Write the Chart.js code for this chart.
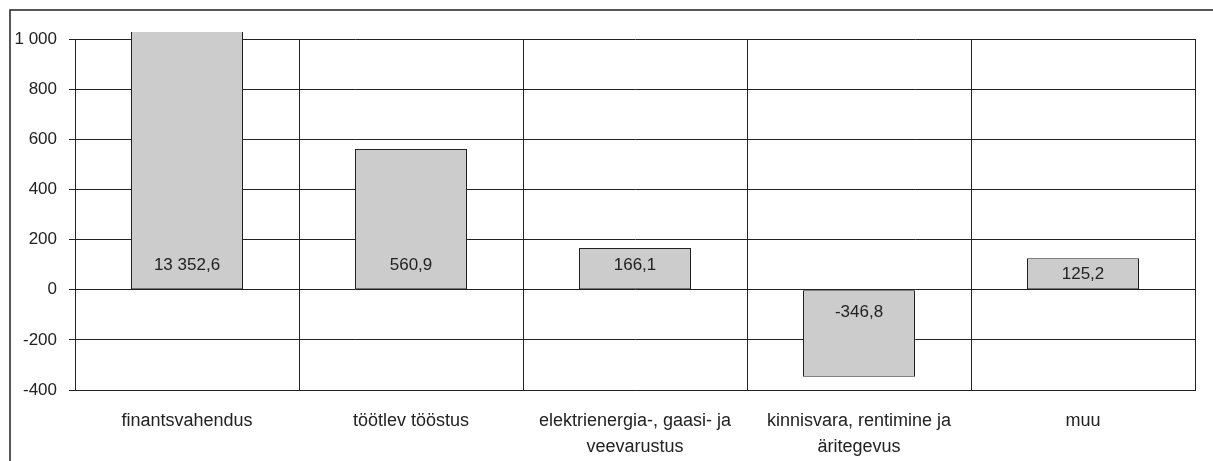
<!DOCTYPE html>
<html lang="et">
<head>
  <meta charset="UTF-8" />
  <title>Investeeringud tegevusalade kaupa</title>
  <script src="https://cdn.jsdelivr.net/npm/chart.js"></script>
  <style>
    html, body {
      margin: 0;
      padding: 0;
      background: #fff;
    }
    .wrap {
      width: 1213px;
      height: 461px;
    }
  </style>
</head>
<body>
  <div class="wrap"><canvas id="chart" width="1213" height="461"></canvas></div>

  <script>
    // data
    const categories = [
      ['finantsvahendus'],
      ['töötlev tööstus'],
      ['elektrienergia-, gaasi- ja', 'veevarustus'],
      ['kinnisvara, rentimine ja', 'äritegevus'],
      ['muu']
    ];
    const values = [13352.6, 560.9, 166.1, -346.8, 125.2];
    const yMin = -400;
    const yMax = 1000;
    const yStep = 200;

    const ink = '#222';
    const fontFamily = '"Liberation Sans", Arial, sans-serif';

    // 13352.6 -> "13 352,6", 1000 -> "1 000"
    function fmt(v, dec) {
      const neg = v < 0;
      let s = Math.abs(v).toFixed(dec);
      let [int, frac] = s.split('.');
      int = int.replace(/\B(?=(\d{3})+(?!\d))/g, ' ');
      return (neg ? '-' : '') + int + (frac ? ',' + frac : '');
    }

    // labels sit inside the bar next to the zero line,
    // or in the middle of the bar when it is too short for that
    const baseLabels = {
      id: 'baseLabels',
      afterDatasetsDraw(chart) {
        const ctx = chart.ctx;
        const area = chart.chartArea;
        const y0 = chart.scales.y.getPixelForValue(0);
        ctx.save();
        ctx.font = '17px ' + fontFamily;
        ctx.fillStyle = ink;
        ctx.textAlign = 'center';
        ctx.textBaseline = 'middle';
        chart.getDatasetMeta(0).data.forEach((bar, i) => {
          const v = values[i];
          const top = Math.max(Math.min(bar.y, area.bottom), area.top);
          let y;
          if (v >= 0) {
            y = y0 - 24;
            if (y - 10 < top) y = (y0 + top) / 2;
          } else {
            y = y0 + 23;
            if (y + 10 > top) y = (y0 + top) / 2;
          }
          ctx.fillText(fmt(v, 1), bar.x, y);
        });
        ctx.restore();
      }
    };

    // outer frame of the chart object
    const frame = {
      id: 'frame',
      afterDraw(chart) {
        const ctx = chart.ctx;
        ctx.save();
        ctx.strokeStyle = ink;
        ctx.lineWidth = 1.5;
        ctx.strokeRect(10, 10, 1400, 600);
        ctx.restore();
      }
    };

    new Chart(document.getElementById('chart').getContext('2d'), {
      type: 'bar',
      data: {
        labels: categories,
        datasets: [{
          data: values,
          backgroundColor: '#cccccc',
          borderColor: ink,
          borderWidth: 1,
          borderSkipped: false,
          categoryPercentage: 1,
          barPercentage: 0.5,
          clip: { left: 0, top: 7, right: 0, bottom: 0 }
        }]
      },
      options: {
        responsive: false,
        animation: false,
        layout: { padding: { left: 0, top: 39, right: 18, bottom: 0 } },
        plugins: {
          legend: { display: false },
          tooltip: { enabled: false }
        },
        scales: {
          x: {
            offset: true,
            grid: {
              offset: true,
              color: ink,
              lineWidth: 1,
              drawTicks: false
            },
            border: { display: true, color: ink },
            ticks: {
              padding: 18,
              color: ink,
              maxRotation: 0,
              autoSkip: false,
              font: { family: fontFamily, size: 18, lineHeight: '26px' }
            },
            afterFit(scale) { scale.height = 71; }
          },
          y: {
            min: yMin,
            max: yMax,
            grid: {
              color: ink,
              lineWidth: 1,
              drawTicks: true,
              tickLength: 6
            },
            border: { display: true, color: ink },
            ticks: {
              stepSize: yStep,
              padding: 12,
              color: ink,
              font: { family: fontFamily, size: 17 },
              callback: (v) => fmt(v, 0)
            },
            afterFit(scale) { scale.width = 75; }
          }
        }
      },
      plugins: [baseLabels, frame]
    });
  </script>
</body>
</html>
